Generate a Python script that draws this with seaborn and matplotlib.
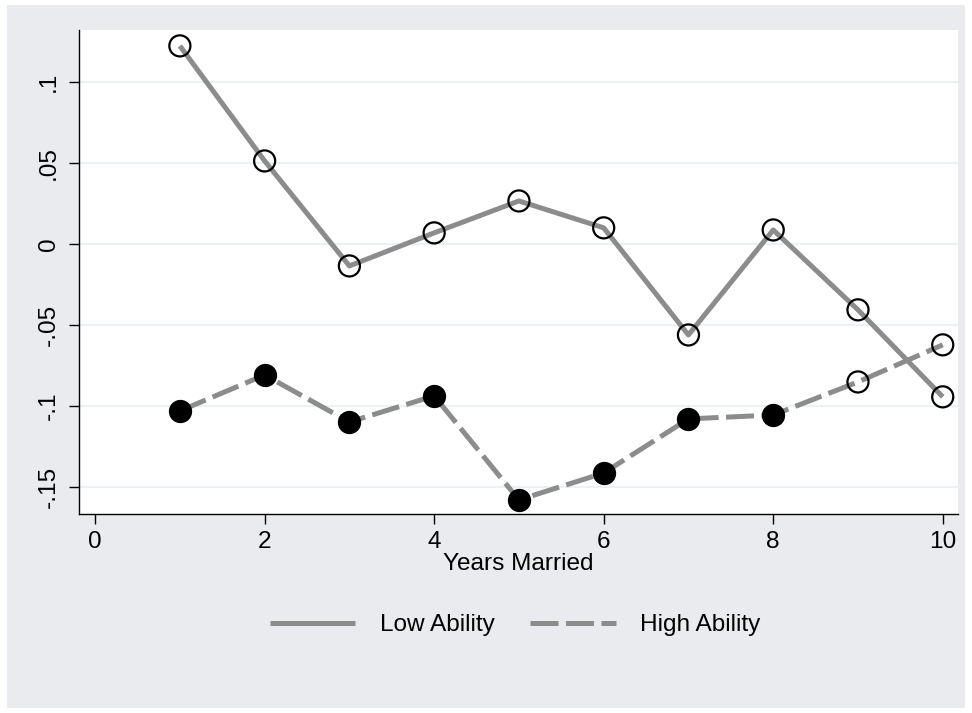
import numpy as np
import pandas as pd
import matplotlib
matplotlib.use("Agg")
import matplotlib.pyplot as plt
from matplotlib.patches import Rectangle
from matplotlib.lines import Line2D
import seaborn as sns

# ---- data ----
years = [1, 2, 3, 4, 5, 6, 7, 8, 9, 10]
low_ability = [0.1222, 0.0512, -0.0136, 0.0068, 0.0265, 0.0099, -0.0562, 0.0086, -0.0407, -0.0944]
high_ability = [-0.1031, -0.0809, -0.1099, -0.0938, -0.1580, -0.1414, -0.1080, -0.1056, -0.0852, -0.0623]
high_filled = [True, True, True, True, True, True, True, True, False, False]
series_names = ["Low Ability", "High Ability"]
x_ticks = [0, 2, 4, 6, 8, 10]
y_ticks = [-0.15, -0.1, -0.05, 0, 0.05, 0.1]
y_tick_labels = ["-.15", "-.1", "-.05", "0", ".05", ".1"]
x_label = "Years Married"

df = pd.DataFrame({
    "year": years * 2,
    "value": low_ability + high_ability,
    "group": [series_names[0]] * len(years) + [series_names[1]] * len(years),
    "filled": [False] * len(years) + high_filled,
})

sns.set_style("white")
plt.rcParams["font.family"] = ["Liberation Sans", "DejaVu Sans"]
plt.rcParams["text.color"] = "black"
plt.rcParams["axes.labelcolor"] = "black"
plt.rcParams["xtick.color"] = "black"
plt.rcParams["ytick.color"] = "black"
plt.rcParams["lines.dash_capstyle"] = "butt"
plt.rcParams["lines.solid_capstyle"] = "butt"

FS = 17.6
W, H = 972, 713
fig = plt.figure(figsize=(W / 100, H / 100), dpi=100, facecolor="white")
bg = Rectangle((7 / W, 1 - 708 / H), (965 - 7) / W, (708 - 5) / H,
               transform=fig.transFigure, facecolor="#EAEBEE",
               edgecolor="none", zorder=-10)
fig.patches.append(bg)
ax = fig.add_axes([79 / W, 1 - 514 / H, (958 - 79) / W, (514 - 30) / H])
ax.set_zorder(1)
ax.set_facecolor("white")

line_color = "#8C8C8C"
lw = 3.6
dash = (0, (5.6, 1.5))

sns.lineplot(data=df, x="year", y="value", hue="group", style="group",
             palette={series_names[0]: line_color, series_names[1]: line_color},
             dashes={series_names[0]: "", series_names[1]: dash[1]},
             linewidth=lw, ax=ax, legend=False, zorder=2)

for filled, sub in df.groupby("filled"):
    sns.scatterplot(data=sub, x="year", y="value", ax=ax, s=230,
                    facecolor="black" if filled else "none",
                    edgecolor="black", linewidth=1.6, zorder=3, legend=False)

ax.set_xlim(-0.19, 10.18)
ax.set_ylim(-0.1667, 0.132)
ax.set_xticks(x_ticks)
ax.set_xticklabels([str(t) for t in x_ticks])
ax.set_yticks(y_ticks)
ax.set_yticklabels(y_tick_labels, rotation=90, va="center")
ax.tick_params(axis="both", labelsize=FS, length=7, width=1.0, color="black",
               labelcolor="black", direction="out", pad=5, left=True, bottom=True)
ax.tick_params(axis="y", pad=7)
ax.grid(axis="y", color="#EAF2F3", linewidth=1.5)
ax.grid(axis="x", visible=False)
ax.set_axisbelow(True)
for side in ["top", "right"]:
    ax.spines[side].set_visible(False)
for side in ["left", "bottom"]:
    ax.spines[side].set_color("black")
    ax.spines[side].set_linewidth(1.0)
ax.set_xlabel(x_label, fontsize=FS, labelpad=0, color="black")
ax.set_ylabel("")

handles = [Line2D([0], [0], color=line_color, lw=lw),
           Line2D([0], [0], color=line_color, lw=lw, linestyle=dash)]
fig.legend(handles, series_names, loc="center", bbox_to_anchor=(515 / W, 1 - 625 / H),
           ncol=2, frameon=False, fontsize=FS, handlelength=3.5, columnspacing=1.45,
           handletextpad=1.0)

fig.savefig("out.png", dpi=100, facecolor="white")
